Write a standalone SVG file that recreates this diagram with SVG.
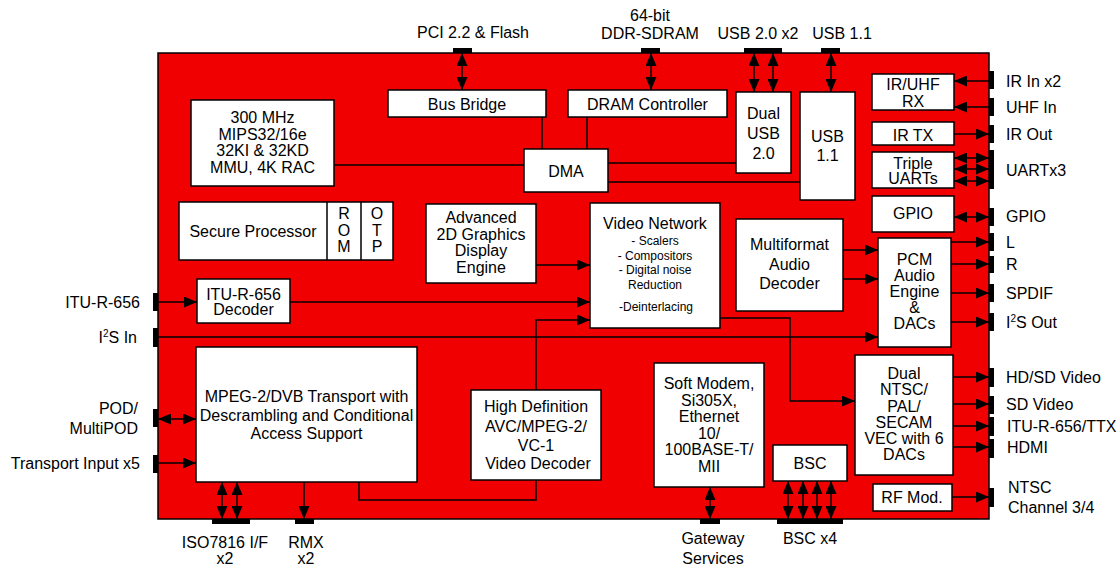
<svg xmlns="http://www.w3.org/2000/svg" width="1118" height="566" viewBox="0 0 1118 566">
<defs>
<marker id="ah" viewBox="0 0 13 11" refX="13" refY="5.5" markerWidth="13" markerHeight="11" markerUnits="userSpaceOnUse" orient="auto-start-reverse"><path d="M0,0 L13,5.5 L0,11 z" fill="#000"/></marker>
</defs>
<style>
text{font-family:"Liberation Sans",Arial,sans-serif;font-size:16px;fill:#000}
.c{text-anchor:middle}
.r{text-anchor:end}
.s{font-size:12px}
.box{fill:#fff;stroke:#000;stroke-width:1.5}
.pad{fill:#000}
.ln{fill:none;stroke:#000;stroke-width:1.5}
.a{marker-end:url(#ah)}
.d{marker-start:url(#ah);marker-end:url(#ah)}
</style>
<rect x="0" y="0" width="1118" height="566" fill="#fff"/>
<rect id="chip" x="158" y="53" width="831" height="466" fill="#f00000" stroke="#000" stroke-width="1.5"/>

<g id="pads">
<rect class="pad" x="453" y="48" width="19" height="5"/>
<rect class="pad" x="641" y="48" width="19" height="5"/>
<rect class="pad" x="744" y="48" width="38" height="5"/>
<rect class="pad" x="821" y="48" width="19" height="5"/>
<rect class="pad" x="989" y="71" width="5" height="18"/>
<rect class="pad" x="989" y="98" width="5" height="18"/>
<rect class="pad" x="989" y="125" width="5" height="18"/>
<rect class="pad" x="989" y="150" width="5" height="39"/>
<rect class="pad" x="989" y="208" width="5" height="18"/>
<rect class="pad" x="989" y="233" width="5" height="18"/>
<rect class="pad" x="989" y="256" width="5" height="17"/>
<rect class="pad" x="989" y="284" width="5" height="18"/>
<rect class="pad" x="989" y="313" width="5" height="18"/>
<rect class="pad" x="989" y="368" width="5" height="19"/>
<rect class="pad" x="989" y="396" width="5" height="18"/>
<rect class="pad" x="989" y="417" width="5" height="19"/>
<rect class="pad" x="989" y="439" width="5" height="19"/>
<rect class="pad" x="989" y="488" width="5" height="19"/>
<rect class="pad" x="153" y="293" width="5" height="18"/>
<rect class="pad" x="153" y="328" width="5" height="19"/>
<rect class="pad" x="153" y="409" width="5" height="18"/>
<rect class="pad" x="153" y="455" width="5" height="18"/>
<rect class="pad" x="212" y="519" width="38" height="5"/>
<rect class="pad" x="295" y="519" width="19" height="5"/>
<rect class="pad" x="700" y="519" width="20" height="5"/>
<rect class="pad" x="777" y="519" width="66" height="5"/>
</g>

<g id="connectors">
<path class="ln d" d="M462,53 V90"/>
<path class="ln d" d="M651,53 V90"/>
<path class="ln d" d="M754,53 V92"/>
<path class="ln d" d="M773,53 V92"/>
<path class="ln d" d="M831,53 V92"/>
<path class="ln" d="M334,165 H524"/>
<path class="ln" d="M542,117 V149"/>
<path class="ln" d="M587,117 V149"/>
<path class="ln" d="M608,163 H736"/>
<path class="ln" d="M608,182 H800"/>
<path class="ln a" d="M989,81 H954"/>
<path class="ln a" d="M989,107 H954"/>
<path class="ln a" d="M954,134 H989"/>
<path class="ln d" d="M954,158 H989"/>
<path class="ln d" d="M954,169 H989"/>
<path class="ln d" d="M954,181 H989"/>
<path class="ln d" d="M954,217 H989"/>
<path class="ln a" d="M951,242 H989"/>
<path class="ln a" d="M951,264 H989"/>
<path class="ln a" d="M951,293 H989"/>
<path class="ln a" d="M951,322 H989"/>
<path class="ln a" d="M843,250 H878"/>
<path class="ln a" d="M843,279 H878"/>
<path class="ln a" d="M536,265 H590"/>
<path class="ln a" d="M158,302 H197"/>
<path class="ln a" d="M290,302 H590"/>
<path class="ln a" d="M536,390 V320 H590"/>
<path class="ln" d="M359,482 V500 H536 V480"/>
<path class="ln a" d="M158,337 H878"/>
<path class="ln a" d="M720,318 H790 V401 H855"/>
<path class="ln a" d="M952,377 H989"/>
<path class="ln a" d="M952,404 H989"/>
<path class="ln a" d="M952,426 H989"/>
<path class="ln a" d="M952,447 H989"/>
<path class="ln a" d="M952,497 H989"/>
<path class="ln d" d="M158,419 H196"/>
<path class="ln a" d="M158,463 H196"/>
<path class="ln d" d="M222,482 V519"/>
<path class="ln d" d="M237,482 V519"/>
<path class="ln a" d="M304,482 V519"/>
<path class="ln d" d="M710,487 V519"/>
<path class="ln d" d="M788,481 V519"/>
<path class="ln d" d="M803,481 V519"/>
<path class="ln d" d="M817,481 V519"/>
<path class="ln d" d="M831,481 V519"/>
</g>

<g id="cpu"><rect class="box" x="191" y="100" width="143" height="86"/>
<text class="c" x="262.5" y="123">300 MHz</text><text class="c" x="262.5" y="139.5">MIPS32/16e</text><text class="c" x="262.5" y="156">32KI &amp; 32KD</text><text class="c" x="262.5" y="172.5">MMU, 4K RAC</text></g>
<g id="busbridge"><rect class="box" x="388" y="90" width="158" height="27"/><text class="c" x="467" y="110">Bus Bridge</text></g>
<g id="dram"><rect class="box" x="568" y="90" width="159" height="27"/><text class="c" x="647.5" y="110">DRAM Controller</text></g>
<g id="dualusb"><rect class="box" x="736" y="92" width="55" height="81"/><text class="c" x="763.5" y="119">Dual</text><text class="c" x="763.5" y="139">USB</text><text class="c" x="763.5" y="159">2.0</text></g>
<g id="usb11"><rect class="box" x="800" y="92" width="55" height="108"/><text class="c" x="827.5" y="142">USB</text><text class="c" x="827.5" y="161">1.1</text></g>
<g id="dma"><rect class="box" x="524" y="149" width="84" height="43"/><text class="c" x="566" y="177">DMA</text></g>
<g id="irrx"><rect class="box" x="872" y="74" width="82" height="36"/><text class="c" x="913" y="90">IR/UHF</text><text class="c" x="913" y="107">RX</text></g>
<g id="irtx"><rect class="box" x="872" y="122" width="82" height="23"/><text class="c" x="913" y="141">IR TX</text></g>
<g id="uarts"><rect class="box" x="872" y="152" width="82" height="36"/><text class="c" x="913" y="169">Triple</text><text class="c" x="913" y="184">UARTs</text></g>
<g id="gpio"><rect class="box" x="872" y="196" width="82" height="36"/><text class="c" x="913" y="219">GPIO</text></g>
<g id="secure"><rect class="box" x="179" y="202" width="214" height="58"/><path class="ln" d="M327,202 V260 M361,202 V260"/>
<text class="c" x="253" y="237">Secure Processor</text>
<text class="c" x="344" y="219">R</text><text class="c" x="344" y="235.5">O</text><text class="c" x="344" y="252">M</text>
<text class="c" x="377" y="219">O</text><text class="c" x="377" y="235.5">T</text><text class="c" x="377" y="252">P</text></g>
<g id="gfx"><rect class="box" x="426" y="204" width="110" height="79"/><text class="c" x="481" y="223">Advanced</text><text class="c" x="481" y="239.5">2D Graphics</text><text class="c" x="481" y="256">Display</text><text class="c" x="481" y="272.5">Engine</text></g>
<g id="vnet"><rect class="box" x="590" y="203" width="130" height="125"/><text class="c" x="655" y="229">Video Network</text>
<text class="c s" x="655" y="245">- Scalers</text><text class="c s" x="655" y="260">- Compositors</text><text class="c s" x="655" y="274">- Digital noise</text><text class="c s" x="655" y="289">Reduction</text><text class="c s" x="656" y="311">-Deinterlacing</text></g>
<g id="mfad"><rect class="box" x="736" y="219" width="107" height="92"/><text class="c" x="789.5" y="250">Multiformat</text><text class="c" x="789.5" y="269.5">Audio</text><text class="c" x="789.5" y="289">Decoder</text></g>
<g id="pcm"><rect class="box" x="878" y="238" width="73" height="109"/><text class="c" x="914.5" y="265">PCM</text><text class="c" x="914.5" y="281">Audio</text><text class="c" x="914.5" y="297">Engine</text><text class="c" x="914.5" y="313">&amp;</text><text class="c" x="914.5" y="329">DACs</text></g>
<g id="itudec"><rect class="box" x="197" y="279" width="93" height="44"/><text class="c" x="243.5" y="300">ITU-R-656</text><text class="c" x="243.5" y="315">Decoder</text></g>
<g id="mpeg"><rect class="box" x="196" y="347" width="221" height="135"/><text class="c" x="306.5" y="402">MPEG-2/DVB Transport with</text><text class="c" x="306.5" y="420.5">Descrambling and Conditional</text><text class="c" x="306.5" y="439">Access Support</text></g>
<g id="hddec"><rect class="box" x="471" y="390" width="130" height="90"/><text class="c" x="536" y="412">High Definition</text><text class="c" x="536" y="431.5">AVC/MPEG-2/</text><text class="c" x="536" y="451">VC-1</text><text class="c" x="538" y="469">Video Decoder</text></g>
<g id="modem"><rect class="box" x="654" y="363" width="110" height="124"/><text class="c" x="709" y="389">Soft Modem,</text><text class="c" x="709" y="405.5">Si305X,</text><text class="c" x="709" y="422">Ethernet</text><text class="c" x="709" y="438.5">10/</text><text class="c" x="709" y="455">100BASE-T/</text><text class="c" x="709" y="471.5">MII</text></g>
<g id="bsc"><rect class="box" x="773" y="445" width="74" height="36"/><text class="c" x="810" y="469">BSC</text></g>
<g id="vec"><rect class="box" x="855" y="355" width="98" height="120"/><text class="c" x="904" y="379">Dual</text><text class="c" x="904" y="395">NTSC/</text><text class="c" x="904" y="412">PAL/</text><text class="c" x="904" y="428">SECAM</text><text class="c" x="904" y="444">VEC with 6</text><text class="c" x="904" y="460">DACs</text></g>
<g id="rfmod"><rect class="box" x="873" y="484" width="79" height="27"/><text class="c" x="912" y="503">RF Mod.</text></g>

<g id="labels">
<text class="c" x="473" y="38">PCI 2.2 &amp; Flash</text>
<text class="c" x="650" y="21">64-bit</text><text class="c" x="650" y="39">DDR-SDRAM</text>
<text class="c" x="758" y="39">USB 2.0 x2</text>
<text class="c" x="842" y="39">USB 1.1</text>
<text x="1006" y="87">IR In x2</text>
<text x="1006" y="113">UHF In</text>
<text x="1006" y="140">IR Out</text>
<text x="1006" y="176">UARTx3</text>
<text x="1006" y="222">GPIO</text>
<text x="1006" y="248">L</text>
<text x="1006" y="270">R</text>
<text x="1006" y="299">SPDIF</text>
<text x="1006" y="328">I<tspan font-size="10" dy="-6">2</tspan><tspan dy="6">S Out</tspan></text>
<text x="1006" y="383">HD/SD Video</text>
<text x="1006" y="410">SD Video</text>
<text x="1007" y="432">ITU-R-656/TTX</text>
<text x="1007" y="453">HDMI</text>
<text x="1008" y="493">NTSC</text><text x="1008" y="513">Channel 3/4</text>
<text class="r" x="140" y="308">ITU-R-656</text>
<text class="r" x="137" y="343">I<tspan font-size="10" dy="-6">2</tspan><tspan dy="6">S In</tspan></text>
<text class="r" x="138" y="414">POD/</text><text class="r" x="138" y="434">MultiPOD</text>
<text class="r" x="140" y="469">Transport Input x5</text>
<text class="c" x="225" y="548">ISO7816 I/F</text><text class="c" x="225" y="564">x2</text>
<text class="c" x="306" y="548">RMX</text><text class="c" x="306" y="564">x2</text>
<text class="c" x="713" y="544">Gateway</text><text class="c" x="713" y="564">Services</text>
<text class="c" x="810" y="544">BSC x4</text>
</g>
</svg>
